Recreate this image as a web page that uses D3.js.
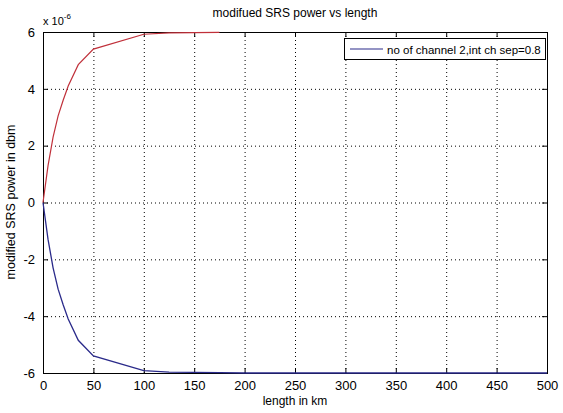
<!DOCTYPE html>
<html><head><meta charset="utf-8">
<script src="https://cdn.jsdelivr.net/npm/d3@7"></script>
<style>body{margin:0;background:#fff}svg{display:block}text{font-family:"Liberation Sans",Arial,sans-serif}</style>
</head><body>
<script>
const redLength = [0,5,10,15,20,25,35,50,100,125,150,175];
const redPower  = [0,1.3,2.3,3.05,3.6,4.1,4.85,5.4,5.92,5.97,5.98,5.99];
const blueLength = [0,5,10,15,20,25,35,50,100,125,150,175,200,250,300,350,400,450,500];
const bluePower  = [0,-1.3,-2.3,-3.05,-3.6,-4.1,-4.85,-5.4,-5.92,-5.97,-5.98,-5.99,-6,-6,-6,-6,-6,-6,-6];
const xTicks = [0,50,100,150,200,250,300,350,400,450,500];
const yTicks = [-6,-4,-2,0,2,4,6];
const legendLabel = "no of channel 2,int ch sep=0.8";

const W=563,H=413, L=43,R=547,T=32,B=373;
const svg=d3.select("body").append("svg").attr("width",W).attr("height",H);
const x=d3.scaleLinear().domain([0,500]).range([L,R]);
const y=d3.scaleLinear().domain([-6,6]).range([B,T]);

// grid
const g=svg.append("g");
g.selectAll(".gx").data(xTicks.slice(1,-1)).enter().append("line")
 .attr("x1",d=>x(d)+0.5).attr("x2",d=>x(d)+0.5).attr("y1",T).attr("y2",B)
 .attr("stroke","#000").attr("stroke-width",1).attr("stroke-dasharray","1,3");
g.selectAll(".gy").data(yTicks.slice(1,-1)).enter().append("line")
 .attr("y1",d=>y(d)+0.5).attr("y2",d=>y(d)+0.5).attr("x1",L).attr("x2",R)
 .attr("stroke","#000").attr("stroke-width",1).attr("stroke-dasharray","1,3");

// axes
const fmt=d=>String(d);
svg.append("g").attr("transform",`translate(0,${B})`)
 .call(d3.axisBottom(x).tickValues(xTicks).tickFormat(fmt).tickSizeInner(-5).tickSizeOuter(0).tickPadding(8))
 .call(a=>{a.select(".domain").remove();a.selectAll("text").attr("font-size",13).attr("fill","#000");});
svg.append("g").attr("transform",`translate(${L},0)`)
 .call(d3.axisLeft(y).tickValues(yTicks).tickFormat(fmt).tickSizeInner(-5).tickSizeOuter(0).tickPadding(8))
 .call(a=>{a.select(".domain").remove();a.selectAll("text").attr("font-size",13).attr("fill","#000");});
svg.append("g").attr("transform",`translate(0,${T})`)
 .call(d3.axisTop(x).tickValues(xTicks).tickFormat("").tickSizeInner(-5).tickSizeOuter(0))
 .call(a=>a.select(".domain").remove());
svg.append("g").attr("transform",`translate(${R},0)`)
 .call(d3.axisRight(y).tickValues(yTicks).tickFormat("").tickSizeInner(-5).tickSizeOuter(0))
 .call(a=>a.select(".domain").remove());
svg.append("rect").attr("x",L+0.5).attr("y",T+0.5).attr("width",R-L).attr("height",B-T)
 .attr("fill","none").attr("stroke","#000");

// lines
const line=d3.line().x(d=>x(d[0])).y(d=>y(d[1]));
svg.append("path").datum(blueLength.map((v,i)=>[v,bluePower[i]]))
 .attr("d",line).attr("fill","none").attr("stroke","#2a2a8a").attr("stroke-width",1.3);
svg.append("path").datum(redLength.map((v,i)=>[v,redPower[i]]))
 .attr("d",line).attr("fill","none").attr("stroke","#c0303a").attr("stroke-width",1.2);

// legend
svg.append("rect").attr("x",344.5).attr("y",38.5).attr("width",201).attr("height",21)
 .attr("fill","#fff").attr("stroke","#000");
svg.append("line").attr("x1",350).attr("x2",383).attr("y1",49).attr("y2",49)
 .attr("stroke","#2a2a8a").attr("stroke-width",1.2);
svg.append("text").attr("x",387).attr("y",53.5).attr("font-size",11.5).text(legendLabel);

// texts
svg.append("text").attr("x",295).attr("y",17).attr("text-anchor","middle").attr("font-size",12).text("modifued SRS power vs length");
svg.append("text").attr("x",295).attr("y",405).attr("text-anchor","middle").attr("font-size",12).text("length in km");
svg.append("text").attr("transform","translate(15,202) rotate(-90)").attr("text-anchor","middle").attr("font-size",12.5).text("modified SRS power in dbm");
const e=svg.append("text").attr("x",43).attr("y",25).attr("font-size",11);
e.append("tspan").text("x 10");
e.append("tspan").attr("dy",-6).attr("font-size",8).text("-6");
</script>
</body></html>
